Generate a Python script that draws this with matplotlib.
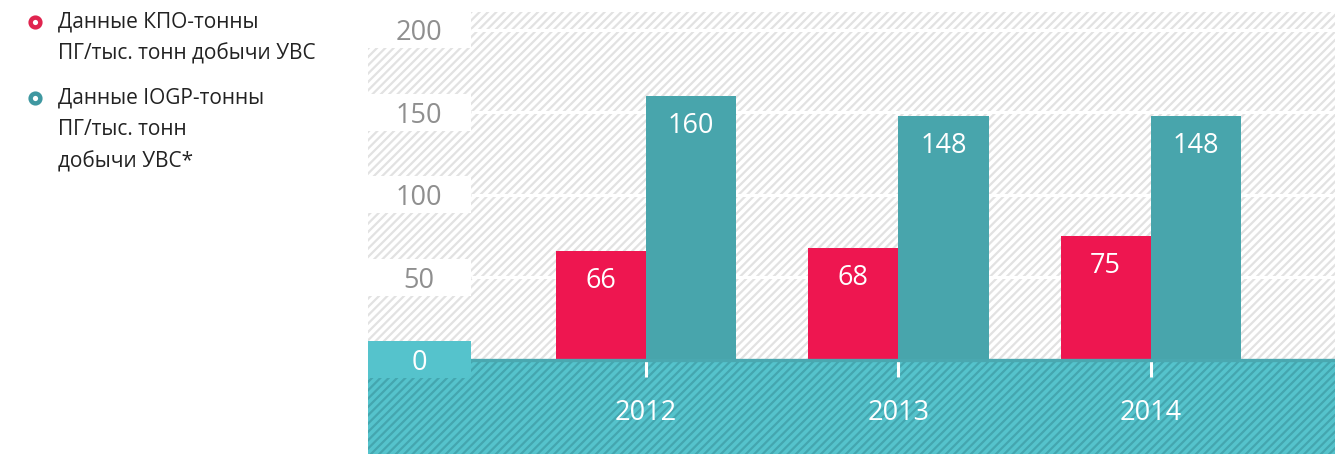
import matplotlib
matplotlib.use('Agg')
import matplotlib.pyplot as plt
from matplotlib.patches import Rectangle
from matplotlib.lines import Line2D
import numpy as np

# Data
years = ['2012', '2013', '2014']
kpo = [66, 68, 75]
iogp = [160, 148, 148]
yticks = [0, 50, 100, 150, 200]
legend_labels = ['Данные КПО-тонны\nПГ/тыс. тонн добычи УВС',
                 'Данные IOGP-тонны\nПГ/тыс. тонн\nдобычи УВС*']

plt.rcParams['font.family'] = ['Open Sans', 'DejaVu Sans']
plt.rcParams['hatch.linewidth'] = 1.6

red = '#ee1650'
teal = '#48a5ac'
cyan = '#55c3cc'
label_gray = '#8f8f8f'

fig = plt.figure(figsize=(13.39, 4.54), dpi=100)
ax = fig.add_axes([368 / 1339, 0, (1335 - 368) / 1339, (454 - 12) / 454])

x = np.arange(len(years))
w = 0.358
xmin, xmax = -1.101, 2.729
col_edge = -0.695
ax.set_xlim(xmin, xmax)
ax.set_ylim(-57.0, 210.9)

# hatched backgrounds
ax.axhspan(0, 210.9, facecolor='white', edgecolor='#e2e2e2', hatch='////', lw=0, zorder=0)
ax.axhspan(-57.0, 0, facecolor=cyan, edgecolor='#44a6af', hatch='////', lw=0, zorder=0)

# gridlines
ax.hlines(yticks[1:], col_edge, xmax, color='white', lw=2.2, zorder=1)
ax.axhline(0, color='#4aa8b0', lw=2.4, zorder=3)

# bars
ax.bar(x - w / 2, kpo, w, color=red, zorder=2)
ax.bar(x + w / 2, iogp, w, color=teal, zorder=2)
for xi, v in zip(x - w / 2, kpo):
    ax.annotate(str(v), (xi, v), xytext=(0, -21.6), textcoords='offset points',
                ha='center', va='center', color='white', fontsize=19.5, zorder=4)
for xi, v in zip(x + w / 2, iogp):
    ax.annotate(str(v), (xi, v), xytext=(0, -21.6), textcoords='offset points',
                ha='center', va='center', color='white', fontsize=19.5, zorder=4)

# y labels in left column boxes
half = 11.2
for t in yticks:
    fc = cyan if t == 0 else 'white'
    tc = 'white' if t == 0 else label_gray
    ax.add_patch(Rectangle((xmin, t - half), col_edge - xmin, 2 * half,
                           facecolor=fc, edgecolor='none', zorder=4))
    ax.annotate(str(t), ((xmin + col_edge) / 2, t), xytext=(0, -2.2),
                textcoords='offset points', ha='center', va='center',
                color=tc, fontsize=19.5, zorder=5)

# x axis at zero
ax.spines['bottom'].set_position(('data', 0))
for s in ax.spines.values():
    s.set_visible(False)
ax.set_xticks(x)
ax.set_xticklabels(years)
ax.tick_params(axis='x', direction='out', length=12, width=2.2, color='white',
               labelcolor='white', labelsize=19.5, pad=16)
ax.set_yticks([])

# legend
colors = ['#e0244f', '#3f98a1']
marker_y = [22, 98]
text_y = [38, 130]
for c, my, ty, lab in zip(colors, marker_y, text_y, legend_labels):
    fig.add_artist(Line2D([35 / 1339], [1 - my / 454], marker='o', ms=7, mew=3.2,
                          mfc='white', mec=c, transform=fig.transFigure))
    fig.text(58 / 1339, 1 - ty / 454, lab, ha='left', va='center',
             fontsize=15, color='#222222', linespacing=1.65)

fig.savefig('out.png', dpi=100)
